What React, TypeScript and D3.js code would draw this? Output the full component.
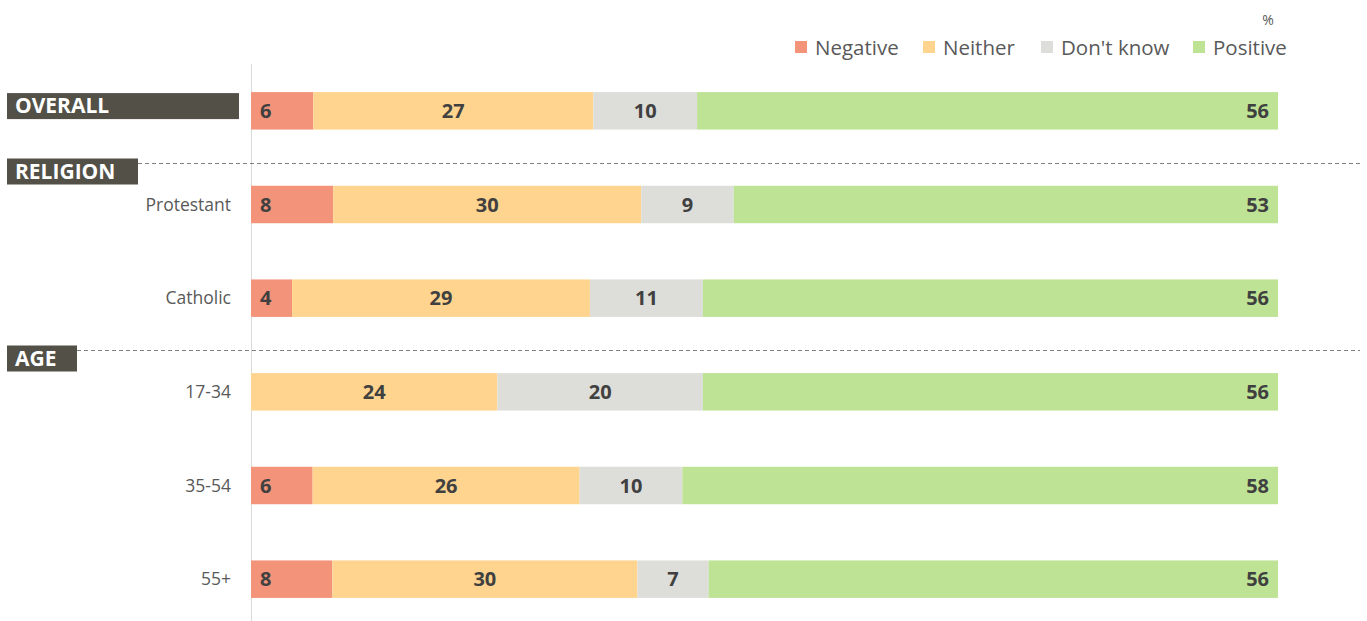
import React from "react";
import * as d3 from "d3";

const categories = ["OVERALL", "Protestant", "Catholic", "17-34", "35-54", "55+"];
const negative = [6, 8, 4, 0, 6, 8];
const neither = [27, 30, 29, 24, 26, 30];
const dontKnow = [10, 9, 11, 20, 10, 7];
const positive = [56, 53, 56, 56, 58, 56];
const seriesNames = ["Negative", "Neither", "Don't know", "Positive"];
const seriesColors = ["#F2937A", "#FED48F", "#DDDDDA", "#BEE395"];
const groupHeaders = [
  { label: "RELIGION", before: "Protestant" },
  { label: "AGE", before: "17-34" },
];

const W = 1367;
const H = 621;
const FONT = "'Open Sans', 'Noto Sans', sans-serif";

export default function App() {
  const y = d3.scaleBand<string>().domain(categories).range([64, 626]).paddingInner(0.6).paddingOuter(0.3);
  const bw = y.bandwidth();
  const x0 = 251;
  const x1 = 1278;
  const series = [negative, neither, dontKnow, positive];

  const legendX = [795, 923, 1041, 1193];

  return (
    <svg width={W} height={H} style={{ position: "absolute", left: 0, top: 0, fontFamily: FONT }}>
      <rect width={W} height={H} fill="#fff" />
      {/* axis line */}
      <line x1={x0 + 0.5} x2={x0 + 0.5} y1={64} y2={H} stroke="#d9d9d9" strokeWidth={1} />
      {/* % label */}
      <text x={1268} y={25} fontSize={14} fill="#595959" textAnchor="middle">%</text>
      {/* legend */}
      {seriesNames.map((n, i) => (
        <g key={n}>
          <rect x={legendX[i]} y={41} width={12} height={12} fill={seriesColors[i]} />
          <text x={legendX[i] + 20} y={55} fontSize={20.5} fill="#595959">{n}</text>
        </g>
      ))}
      {/* bars */}
      {categories.map((c, ri) => {
        const vals = series.map((s) => s[ri]);
        const total = d3.sum(vals);
        const x = d3.scaleLinear().domain([0, total]).range([x0, x1]);
        let cum = 0;
        const top = y(c)!;
        const cy = top + bw / 2;
        return (
          <g key={c}>
            {vals.map((v, si) => {
              const a = cum;
              cum += v;
              if (v === 0) return null;
              const xa = x(a);
              const xb = x(a + v);
              let tx = (xa + xb) / 2;
              let anchor: any = "middle";
              if (si === 0) { tx = xa + 9; anchor = "start"; }
              if (si === 3) { tx = xb - 9; anchor = "end"; }
              return (
                <g key={si}>
                  <rect x={xa} y={top} width={xb - xa} height={bw} fill={seriesColors[si]} />
                  <text x={tx} y={cy + 7} fontSize={20} fontWeight="bold" fill="#404040" textAnchor={anchor}>{v}</text>
                </g>
              );
            })}
            {ri > 0 && (
              <text x={231} y={cy + 6} fontSize={17.5} fill="#595959" textAnchor="end">{c}</text>
            )}
          </g>
        );
      })}
      {/* OVERALL header */}
      {(() => {
        const top = y("OVERALL")!;
        return (
          <g>
            <rect x={7} y={top + 1} width={232} height={26} fill="#525047" />
            <text x={15} y={top + 21} fontSize={21} fontWeight="bold" fill="#fff">OVERALL</text>
          </g>
        );
      })()}
      {groupHeaders.map((g, gi) => {
        const idx = categories.indexOf(g.before);
        const prevBottom = y(categories[idx - 1])! + bw;
        const nextTop = y(g.before)!;
        const ly = Math.round((prevBottom + nextTop) / 2 + 5) + 0.5;
        const boxW = gi === 0 ? 131 : 70;
        return (
          <g key={g.label}>
            <line x1={7 + boxW} x2={1360} y1={ly} y2={ly} stroke="#7f7f7f" strokeDasharray="4,3" strokeWidth={1} />
            <rect x={7} y={ly - 5} width={boxW} height={26} fill="#525047" />
            <text x={15} y={ly + 15} fontSize={21} fontWeight="bold" fill="#fff">{g.label}</text>
          </g>
        );
      })}
    </svg>
  );
}
